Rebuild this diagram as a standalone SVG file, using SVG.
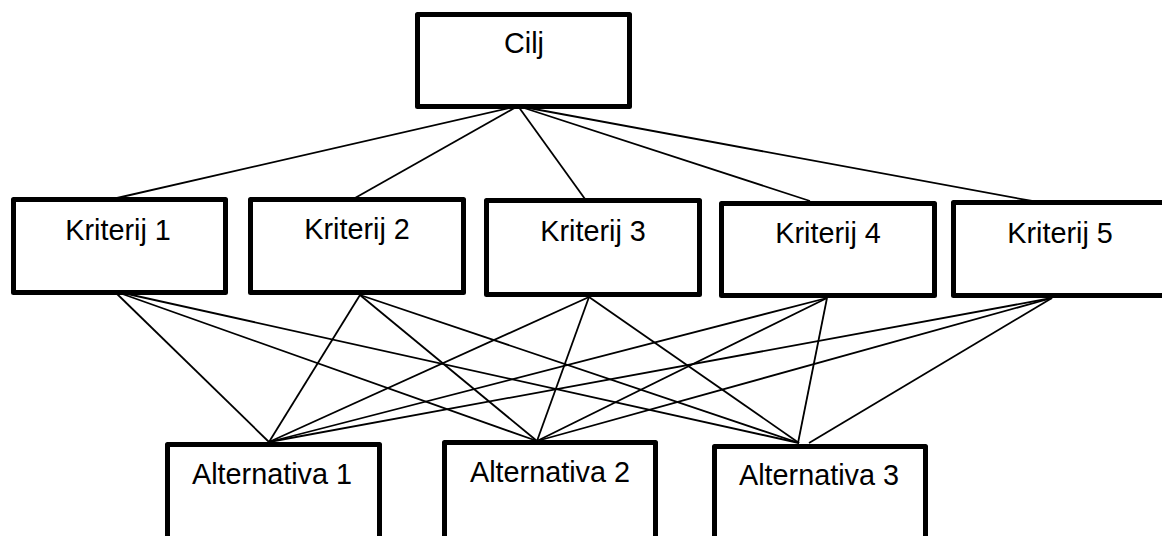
<svg xmlns="http://www.w3.org/2000/svg" width="1162" height="536" viewBox="0 0 1162 536">
<style>
.box{fill:#fff;stroke:#000;stroke-width:5;stroke-linejoin:round}
.lbl{font-family:"Liberation Sans",Arial,sans-serif;font-size:28.8px;fill:#000;text-anchor:middle}
.conn line{stroke:#000;stroke-width:1.8}
</style>
<rect width="1162" height="536" fill="#fff"/>
<g id="connectors" class="conn">
<line x1="518" y1="106" x2="117" y2="198"/>
<line x1="518" y1="106" x2="355" y2="198"/>
<line x1="518" y1="106" x2="585" y2="199"/>
<line x1="518" y1="106" x2="810" y2="201"/>
<line x1="518" y1="106" x2="1032" y2="201"/>
<line x1="114" y1="291" x2="269" y2="442"/>
<line x1="114" y1="291" x2="537" y2="441"/>
<line x1="114" y1="291" x2="799" y2="443"/>
<line x1="360" y1="295" x2="269" y2="442"/>
<line x1="360" y1="295" x2="537" y2="441"/>
<line x1="360" y1="295" x2="799" y2="443"/>
<line x1="589" y1="297" x2="269" y2="442"/>
<line x1="589" y1="297" x2="537" y2="441"/>
<line x1="589" y1="297" x2="799" y2="443"/>
<line x1="827" y1="298" x2="269" y2="442"/>
<line x1="827" y1="298" x2="537" y2="441"/>
<line x1="827" y1="298" x2="798" y2="443"/>
<line x1="1052" y1="298" x2="269" y2="442"/>
<line x1="1052" y1="298" x2="537" y2="441"/>
<line x1="1052" y1="298" x2="809" y2="443"/>
</g>
<g id="cilj"><rect class="box" x="417.5" y="14.5" width="212" height="92"/><text class="lbl" x="524" y="53">Cilj</text></g>
<g id="kriterij1"><rect class="box" x="13.5" y="199.5" width="212" height="93"/><text class="lbl" x="118" y="240">Kriterij 1</text></g>
<g id="kriterij2"><rect class="box" x="250.5" y="199.5" width="213" height="93"/><text class="lbl" x="357" y="239">Kriterij 2</text></g>
<g id="kriterij3"><rect class="box" x="486.5" y="200.5" width="213" height="94"/><text class="lbl" x="593" y="241">Kriterij 3</text></g>
<g id="kriterij4"><rect class="box" x="721.5" y="203.5" width="213" height="92"/><text class="lbl" x="828" y="243">Kriterij 4</text></g>
<g id="kriterij5"><rect class="box" x="953.5" y="202.5" width="215" height="93"/><text class="lbl" x="1060" y="243">Kriterij 5</text></g>
<g id="alternativa1"><rect class="box" x="167.5" y="444.5" width="212" height="120"/><text class="lbl" x="272" y="484">Alternativa 1</text></g>
<g id="alternativa2"><rect class="box" x="444.5" y="442.5" width="211" height="120"/><text class="lbl" x="550" y="482">Alternativa 2</text></g>
<g id="alternativa3"><rect class="box" x="714.5" y="446.5" width="211" height="120"/><text class="lbl" x="819" y="485">Alternativa 3</text></g>
</svg>
